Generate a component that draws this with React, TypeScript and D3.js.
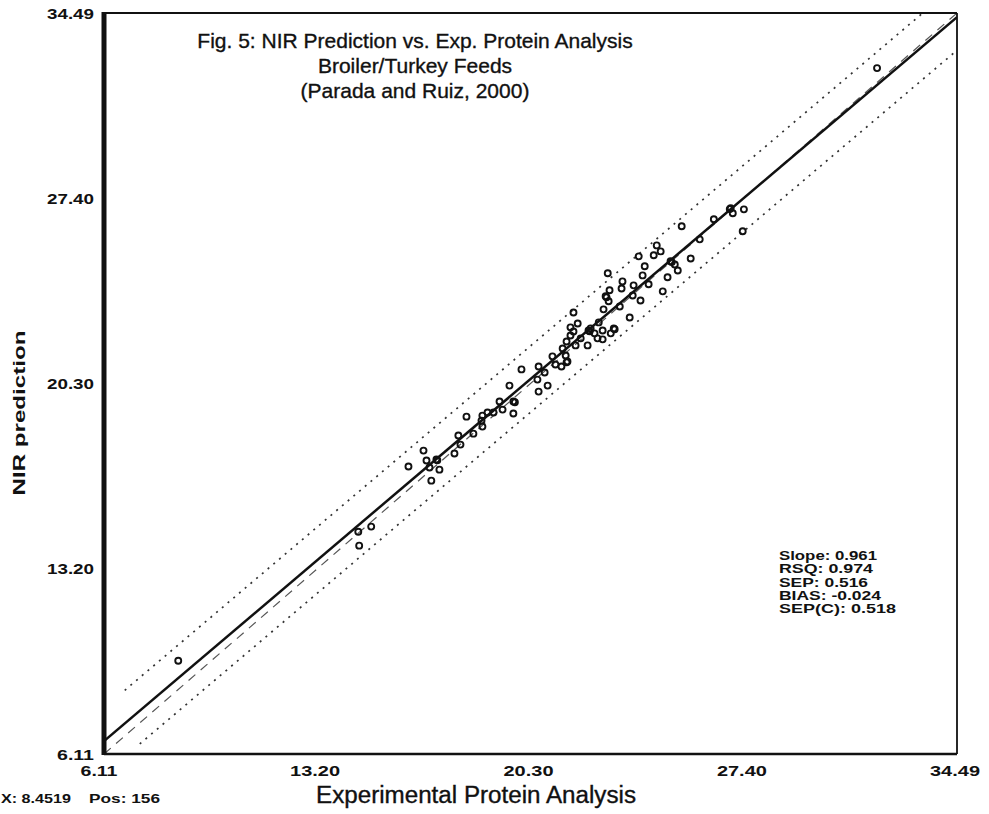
import React from "react";
import * as d3 from "d3";

// ---- data ----
const axisMin = 6.11;
const axisMax = 34.49;
const tickValues = [6.11, 13.2, 20.3, 27.4, 34.49];
const tickLabels = ["6.11", "13.20", "20.30", "27.40", "34.49"];

// Experimental protein (x) vs NIR prediction (y)
const expProtein = [
  8.58, 14.57, 15.0, 14.6, 16.24, 16.74, 16.84, 17.17, 16.94, 17.27, 17.0, 17.77, 17.97, 17.9,
  18.17, 18.4, 18.67, 18.7, 18.7, 18.87, 19.07, 19.27, 19.37, 19.73, 19.73, 19.6, 20.0, 20.57,
  20.77, 20.53, 20.87, 20.57, 21.03, 21.47, 21.5, 21.33, 21.13, 21.37, 21.5, 21.63, 21.63, 21.73,
  21.87, 21.73, 21.8, 21.97, 22.23, 22.2, 22.53, 22.7, 22.43, 22.7, 22.97, 23.07, 22.57, 22.3,
  23.6, 22.73, 23.27, 22.9, 23.96, 22.8, 23.7, 24.7, 22.93, 23.33, 23.73, 24.23, 23.36, 22.87,
  24.03, 24.1, 24.86, 25.2, 24.96, 25.1, 25.63, 23.9, 24.4, 24.63, 24.5, 25.33, 25.93, 26.4,
  26.96, 27.4, 27.03, 27.36, 31.83,
  19.78, 22.27, 23.1, 22.83, 25.0, 26.93, 17.2, 21.53,
];
const nirPrediction = [
  9.68, 14.62, 14.82, 14.09, 17.12, 17.73, 17.35, 17.39, 17.08, 17.0, 16.58, 17.62, 17.96, 18.31,
  19.03, 18.38, 18.88, 19.07, 18.65, 19.19, 19.19, 19.61, 19.3, 19.61, 19.15, 20.22, 20.84, 20.95,
  20.72, 20.45, 20.22, 19.99, 21.34, 21.37, 21.11, 20.95, 21.03, 21.64, 21.91, 22.14, 22.45, 22.29,
  22.6, 23.02, 21.76, 22.03, 22.33, 21.76, 22.03, 21.99, 22.22, 22.33, 22.22, 22.41, 22.64, 22.41,
  22.83, 23.14, 23.25, 23.45, 23.48, 23.64, 23.67, 23.83, 23.87, 23.94, 24.06, 24.1, 24.21, 24.52,
  24.44, 24.79, 24.37, 24.63, 24.98, 24.86, 25.09, 25.17, 25.21, 25.36, 25.59, 26.32, 25.82, 26.59,
  27.01, 26.97, 26.82, 26.13, 32.38,
  19.58, 22.3, 22.38, 23.6, 24.95, 26.98, 17.36, 21.14,
];

// fitted line and prediction band
const fitSlope = 0.977;
const fitIntercept = 0.635;
const bandOffset = 1.27;
const upperBandStart = 6.8;
const lowerBandStart = 7.3;

const statLines = ["Slope: 0.961", "RSQ: 0.974", "SEP: 0.516", "BIAS: -0.024", "SEP(C): 0.518"];
const statWidths = [98, 94, 89, 102, 117];

const titleLines = [
  "Fig. 5: NIR Prediction vs. Exp. Protein Analysis",
  "Broiler/Turkey Feeds",
  "(Parada and Ruiz, 2000)",
];
const xTitle = "Experimental Protein Analysis";
const yTitle = "NIR prediction";

export default function App() {
  const W = 989;
  const H = 814;
  const left = 104;
  const right = 957;
  const top = 13;
  const bottom = 754;

  const x = d3.scaleLinear().domain([axisMin, axisMax]).range([left, right]);
  const y = d3.scaleLinear().domain([axisMin, axisMax]).range([bottom, top]);

  const lineGen = d3
    .line<[number, number]>()
    .x((d) => x(d[0]))
    .y((d) => y(d[1]));

  const fit = (v: number) => fitIntercept + fitSlope * v;
  const fitPts: [number, number][] = [axisMin, axisMax].map((v) => [v, fit(v)]);
  const onePts: [number, number][] = [axisMin, axisMax].map((v) => [v, v]);
  const upPts: [number, number][] = [upperBandStart, axisMax].map((v) => [v, fit(v) + bandOffset]);
  const loPts: [number, number][] = [lowerBandStart, axisMax].map((v) => [v, fit(v) - bandOffset]);

  const ink = "#111";
  const sans = "'Liberation Sans', Arial, sans-serif";

  return (
    <svg
      width={W}
      height={H}
      style={{ position: "absolute", left: 0, top: 0, background: "#fff" }}
      fontFamily={sans}
    >
      <defs>
        <clipPath id="plotClip">
          <rect x={left} y={top} width={right - left} height={bottom - top} />
        </clipPath>
      </defs>

      <g clipPath="url(#plotClip)">
        <path d={lineGen(onePts) || ""} stroke="#555" strokeWidth={1.2} strokeDasharray="9 7" fill="none" />
        <path d={lineGen(upPts) || ""} stroke="#333" strokeWidth={1.7} strokeDasharray="2 5.5" fill="none" />
        <path d={lineGen(loPts) || ""} stroke="#333" strokeWidth={1.7} strokeDasharray="2 5.5" fill="none" />
        <path d={lineGen(fitPts) || ""} stroke={ink} strokeWidth={2.5} fill="none" />
        {expProtein.map((v, i) => (
          <circle key={i} cx={x(v)} cy={y(nirPrediction[i])} r={3} fill="none" stroke={ink} strokeWidth={1.9} />
        ))}
      </g>

      {/* frame */}
      <line x1={left} y1={top} x2={right} y2={top} stroke={ink} strokeWidth={1.8} />
      <line x1={right} y1={top} x2={right} y2={bottom} stroke={ink} strokeWidth={1.8} />
      <line x1={left} y1={bottom} x2={right} y2={bottom} stroke={ink} strokeWidth={2.6} />
      <line x1={left} y1={top - 1} x2={left} y2={bottom + 1} stroke={ink} strokeWidth={5} />

      {/* y tick labels */}
      {tickValues.map((v, i) => (
        <text
          key={"yl" + i}
          x={left - 10}
          y={y(v) + 5.5}
          textAnchor="end"
          fontSize={15}
          fontWeight="bold"
          fill={ink}
          textLength={tickLabels[i].length === 4 ? 37 : 47}
          lengthAdjust="spacingAndGlyphs"
        >
          {tickLabels[i]}
        </text>
      ))}

      {/* x tick labels */}
      {tickValues.map((v, i) => (
        <text
          key={"xl" + i}
          x={x(v) - (i === 0 ? 5 : 2)}
          y={776}
          textAnchor="middle"
          fontSize={15}
          fontWeight="bold"
          fill={ink}
          textLength={tickLabels[i].length === 4 ? 37 : 50}
          lengthAdjust="spacingAndGlyphs"
        >
          {tickLabels[i]}
        </text>
      ))}

      {/* title */}
      {titleLines.map((t, i) => (
        <text
          key={"t" + i}
          x={415}
          y={48 + i * 25}
          textAnchor="middle"
          fontSize={21}
          fill={ink}
          stroke={ink}
          strokeWidth={0.35}
        >
          {t}
        </text>
      ))}

      {/* axis titles */}
      <text x={476} y={803} textAnchor="middle" fontSize={23} fill={ink} stroke={ink} strokeWidth={0.35}
        textLength={320} lengthAdjust="spacingAndGlyphs">
        {xTitle}
      </text>
      <text
        transform={`translate(25, 413) rotate(-90)`}
        textAnchor="middle"
        fontSize={17}
        fontWeight="bold"
        fill={ink}
        textLength={165}
        lengthAdjust="spacingAndGlyphs"
      >
        {yTitle}
      </text>

      {/* statistics */}
      {statLines.map((s, i) => (
        <text
          key={"s" + i}
          x={779}
          y={560 + i * 13.3}
          fontSize={12}
          fontWeight="bold"
          fill={ink}
          textLength={statWidths[i]}
          lengthAdjust="spacingAndGlyphs"
        >
          {s}
        </text>
      ))}

      {/* cursor read-out */}
      <text x={1} y={803} fontSize={12.5} fontWeight="bold" fill={ink} textLength={70} lengthAdjust="spacingAndGlyphs">
        X: 8.4519
      </text>
      <text x={89} y={803} fontSize={12.5} fontWeight="bold" fill={ink} textLength={71} lengthAdjust="spacingAndGlyphs">
        Pos: 156
      </text>
    </svg>
  );
}
